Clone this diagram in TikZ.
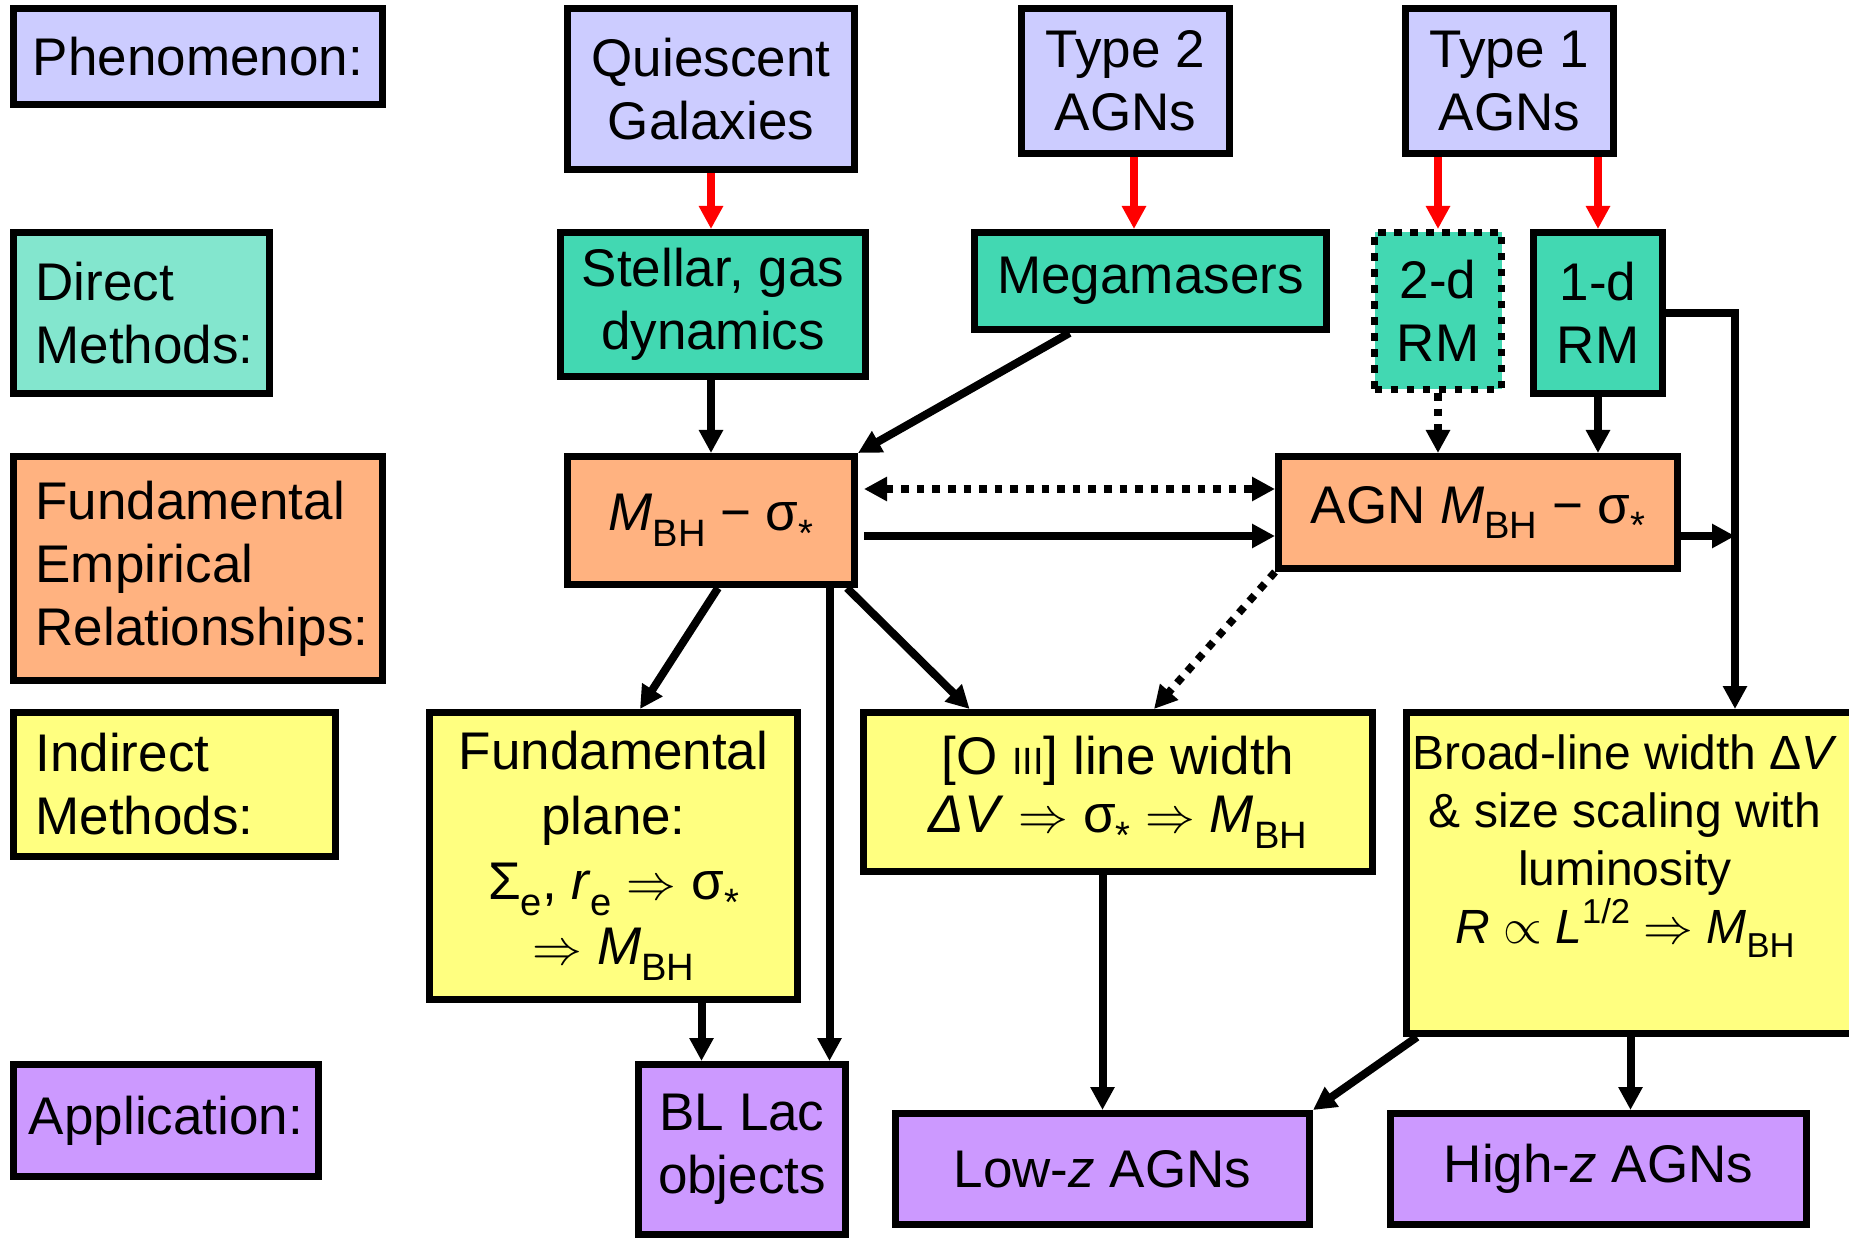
\documentclass[tikz,border=0pt]{standalone}
\usepackage{fontspec}
\setmainfont{Liberation Sans}
\usetikzlibrary{arrows.meta}
\pgfdeclarelayer{bg}
\pgfsetlayers{bg,main}
\definecolor{cPhen}{RGB}{204,204,255}
\definecolor{cDirL}{RGB}{131,230,206}
\definecolor{cDir}{RGB}{66,216,178}
\definecolor{cFund}{RGB}{255,178,128}
\definecolor{cInd}{RGB}{255,255,128}
\definecolor{cApp}{RGB}{204,153,255}
\newcommand{\mysub}[1]{\raisebox{-0.3em}{\scalebox{0.72}{#1}}}
\newcommand{\mysup}[1]{\raisebox{0.42em}{\scalebox{0.72}{#1}}}
\newcommand{\myimp}{$\Rightarrow$}
\newcommand{\myprop}{$\propto$}
\newcommand{\mymbh}{\textit{M}\mysub{BH}}
\newcommand{\mysig}{σ\mysub{*}}
\tikzset{
  box/.style={draw=black, line width=3.5pt, inner sep=0pt, align=center,
    font=\fontsize{26.5}{31.5}\selectfont},
  lbox/.style={box, align=left, inner xsep=11pt},
  dotbox/.style={box, dash pattern=on 3.75pt off 4.25pt},
  conn/.style={draw=black, line width=4pt, -{Triangle[length=11.5pt,width=11.5pt]}},
  redconn/.style={conn, draw=red},
  dotconn/.style={conn, line width=3.8pt, dash pattern=on 3.8pt off 4pt},
}
\begin{document}
\begin{tikzpicture}[x=0.5pt, y=-0.5pt]
\path[use as bounding box] (0,0) rectangle (1849,1241);
\clip (0,0) rectangle (1849,1241);
% row 1
\node[box, fill=cPhen, minimum width=184.5pt, minimum height=48pt] (phen) at (198,56.5) {Phenomenon:};
\node[box, fill=cPhen, minimum width=143.5pt, minimum height=80.5pt] (quies) at (711,89) {Quiescent\\Galaxies};
\node[box, fill=cPhen, minimum width=104pt, minimum height=72.5pt] (type2) at (1125.5,81) {Type 2\\AGNs};
\node[box, fill=cPhen, minimum width=104pt, minimum height=72.5pt] (type1) at (1509.5,81) {Type 1\\AGNs};
% row 2
\node[lbox, fill=cDirL, text width=106pt, minimum width=128pt, minimum height=80.5pt] (direct) at (141.5,313) {Direct\\Methods:};
\node[box, fill=cDir, minimum width=152.5pt, minimum height=72pt] (stellar) at (713,304.5) {Stellar, gas\\dynamics};
\node[box, fill=cDir, minimum width=176pt, minimum height=48.5pt] (mega) at (1150.5,281) {Megamasers};
\node[dotbox, fill=cDir, minimum width=63.5pt, minimum height=78.5pt] (rm2) at (1438,311) {2-d\\RM};
\node[box, fill=cDir, minimum width=64.5pt, minimum height=80.5pt] (rm1) at (1598,313) {1-d\\RM};
% row 3
\node[lbox, fill=cFund, text width=162.5pt, minimum width=184.5pt, minimum height=112pt] (fund) at (198,568.5) {Fundamental\\Empirical\\Relationships:};
\node[box, fill=cFund, minimum width=143.5pt, minimum height=64pt] (msig) at (711,520.5) {\mymbh{} − \mysig};
\node[box, fill=cFund, minimum width=199.5pt, minimum height=56pt] (agn) at (1478,512.5) {AGN \mymbh{} − \mysig};
% row 4
\node[lbox, fill=cInd, text width=139pt, minimum width=161pt, minimum height=72pt] (indirect) at (174.5,784.5) {Indirect\\Methods:};
\node[box, fill=cInd, minimum width=184pt, minimum height=143.5pt, font=\fontsize{26.5}{32.5}\selectfont] (fp) at (613.5,856) {Fundamental\\plane:\\Σ\mysub{e}, \textit{r}\mysub{e} \myimp{} \mysig\\\myimp{} \mymbh};
\node[box, fill=cInd, minimum width=254.5pt, minimum height=79.5pt, font=\fontsize{26.5}{29}\selectfont] (oiii) at (1118,792) {[O {\fontsize{19}{19}\selectfont III}] line width\\\textit{ΔV} \myimp{} \mysig{} \myimp{} \mymbh};
\node[box, fill=cInd, minimum width=230pt, minimum height=160.5pt, font=\fontsize{24}{29}\selectfont] (broad) at (1636.5,873) {Broad-line width Δ\textit{V}\rule{11.5pt}{0pt}\\\&~size scaling with\rule{11.5pt}{0pt}\\luminosity\rule{11.5pt}{0pt}\\\textit{R} \myprop{} \textit{L}\mysup{1/2} \myimp{} \mymbh\rule{11.5pt}{0pt}\rule[-34pt]{0pt}{0pt}};
% row 5
\node[box, fill=cApp, minimum width=152.5pt, minimum height=56pt] (appl) at (166,1120.5) {Application:};
\node[box, fill=cApp, minimum width=103.5pt, minimum height=85pt] (bllac) at (742,1149.5) {BL Lac\\objects};
\node[box, fill=cApp, minimum width=207pt, minimum height=55.5pt] (lowz) at (1102.5,1169) {Low-\textit{z} AGNs};
\node[box, fill=cApp, minimum width=208pt, minimum height=55.5pt] (highz) at (1598.5,1169) {High-\textit{z} AGNs};
\begin{pgfonlayer}{bg}
\fill[white] (0,0) rectangle (1849,1241);
\coordinate (vl) at (1735,0);
\draw[redconn] (quies.south) -- (quies.south |- stellar.north);
\draw[redconn] ([xshift=4.25pt]type2.south) -- ([xshift=4.25pt]type2.south |- mega.north);
\draw[redconn] (rm2.north |- type1.south) -- (rm2.north);
\draw[redconn] (rm1.north |- type1.south) -- (rm1.north);
\draw[conn] (msig.north |- stellar.south) -- (msig.north);
\draw[conn] ([xshift=-40.5pt]mega.south) -- (msig.north east);
\draw[dotconn] (rm2.south) -- (rm2.south |- agn.north);
\draw[conn] (rm1.south) -- (rm1.south |- agn.north);
\draw[conn] (rm1.east) -| (vl |- broad.north);
\draw[conn] ([yshift=-11.75pt]agn.east) -- ([yshift=-11.75pt]agn.east -| vl);
\draw[dotconn, {Triangle[length=11.5pt,width=11.5pt]}-{Triangle[length=11.5pt,width=11.5pt]}, shorten <=3pt] ([yshift=15.75pt]msig.east) -- ([yshift=15.75pt]msig.east -| agn.west);
\draw[conn, shorten <=3pt] ([yshift=-7.75pt]msig.east) -- ([yshift=-7.75pt]msig.east -| agn.west);
\draw[conn] ([xshift=3.5pt]msig.south) -- ([xshift=13.25pt]fp.north);
\draw[conn] ([xshift=59.25pt]msig.south) -- ([xshift=59.25pt]msig.south |- bllac.north);
\draw[conn] ([xshift=68pt]msig.south) -- ([xshift=-74.2pt]oiii.north);
\draw[dotconn] (agn.south west) -- ([xshift=18pt]oiii.north);
\draw[conn] ([xshift=44pt]fp.south) -- ([xshift=44pt]fp.south |- bllac.north);
\draw[conn] (lowz.north |- oiii.south) -- (lowz.north);
\draw[conn] ([xshift=7pt]broad.south west) -- (lowz.north east);
\draw[conn] ([xshift=16pt]highz.north |- broad.south) -- ([xshift=16pt]highz.north);
\end{pgfonlayer}
\end{tikzpicture}
\end{document}
